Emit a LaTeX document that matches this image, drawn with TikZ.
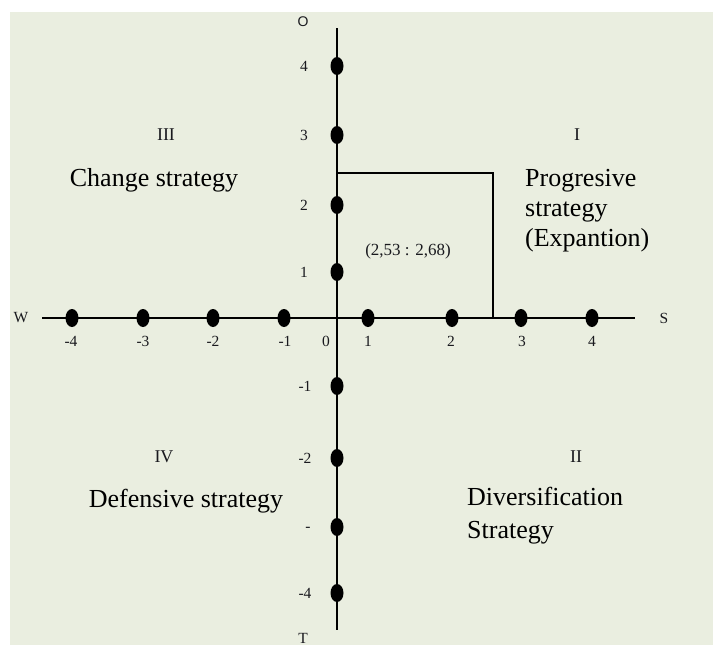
\documentclass[tikz,border=0pt]{standalone}
\usepackage{fontspec}
\setmainfont{Liberation Serif}
\newfontfamily\axsans{Liberation Sans}
\usetikzlibrary{shapes.geometric}
\definecolor{paper}{RGB}{234,238,224}
\definecolor{ink}{RGB}{25,25,30}
\begin{document}
\begin{tikzpicture}[x=1pt,y=-1pt,
  axis/.style={line width=2.6pt,draw=black},
  guide/.style={line width=2pt,draw=black},
  dot/.style={ellipse,fill=black,inner sep=0pt,minimum width=13pt,minimum height=18pt},
  ticklbl/.style={text=ink,inner sep=0pt,font=\fontsize{15.5}{15.5}\selectfont},
  quad/.style={text=ink,inner sep=0pt,font=\fontsize{18}{18}\selectfont},
  strat/.style={text=black,inner sep=0pt,align=left,font=\fontsize{26}{30}\selectfont}]
  % page and panel
  \useasboundingbox (0,0) rectangle (713,645);
  \fill[paper] (10,12) rectangle (713,645);

  % axis end points
  \coordinate (vtop) at (337,28);
  \coordinate (vbot) at (337,630);
  \coordinate (hleft) at (42,318);
  \coordinate (hright) at (635,318);
  \draw[axis] (vtop) -- (vbot);
  \draw[axis] (hleft) -- (hright);

  % point (2,53 : 2,68)
  \coordinate (ptop) at (337,173);
  \coordinate (pcorner) at (493,173);
  \coordinate (pfoot) at (493,318);
  \draw[guide] (ptop) -- (pcorner) -- (pfoot);
  \node[text=ink,inner sep=0pt,font=\fontsize{17}{17}\selectfont] (pval) at (408,251) {(2,53 : 2,68)};

  % marks on the vertical axis
  \foreach \n/\y in {p4/66,p3/135,p2/205,p1/272,m1/386,m2/458,m3/527,m4/593}
    \node[dot] (v\n) at (337,\y) {};
  % marks on the horizontal axis
  \foreach \n/\x in {m4/72,m3/143,m2/213,m1/284,p1/368,p2/452,p3/521,p4/592}
    \node[dot] (h\n) at (\x,318) {};

  % vertical labels
  \node[ticklbl,font=\axsans\fontsize{14}{14}\selectfont] (lO) at (303,22) {O};
  \node[ticklbl] (lv4) at (304,66) {4};
  \node[ticklbl] (lv3) at (304,135) {3};
  \node[ticklbl] (lv2) at (304,205) {2};
  \node[ticklbl] (lv1) at (304,272) {1};
  \node[ticklbl] (lvm1) at (305,386) {-1};
  \node[ticklbl] (lvm2) at (305,458) {-2};
  \node[ticklbl] (lvm3) at (308,529) {-};
  \node[ticklbl] (lvm4) at (305,593) {-4};
  \node[ticklbl] (lT) at (303,638) {T};

  % horizontal labels
  \foreach \n/\x/\t in {m4/71/-4,m3/143/-3,m2/213/-2,m1/285/-1,z/326/0,p1/368/1,p2/451/2,p3/522/3,p4/592/4}
    \node[ticklbl] (lh\n) at (\x,341) {\t};
  \node[ticklbl] (lW) at (21,318) {W};
  \node[ticklbl] (lS) at (664,318) {S};

  % quadrant numbers
  \node[quad] (qIII) at (166,135) {III};
  \node[quad] (qI) at (577,135) {I};
  \node[quad] (qIV) at (164,457) {IV};
  \node[quad] (qII) at (576,457) {II};

  % strategy names
  \node[strat,anchor=base] (sChange) at (154,186) {Change strategy};
  \node[strat,anchor=north west] (sProg) at (525,169) {Progresive\\strategy\\(Expantion)};
  \node[strat,anchor=base] (sDef) at (186,507) {Defensive strategy};
  \node[strat,anchor=north west,font=\fontsize{26}{33}\selectfont] (sDiv) at (467,487) {Diversification\\Strategy};
\end{tikzpicture}
\end{document}
